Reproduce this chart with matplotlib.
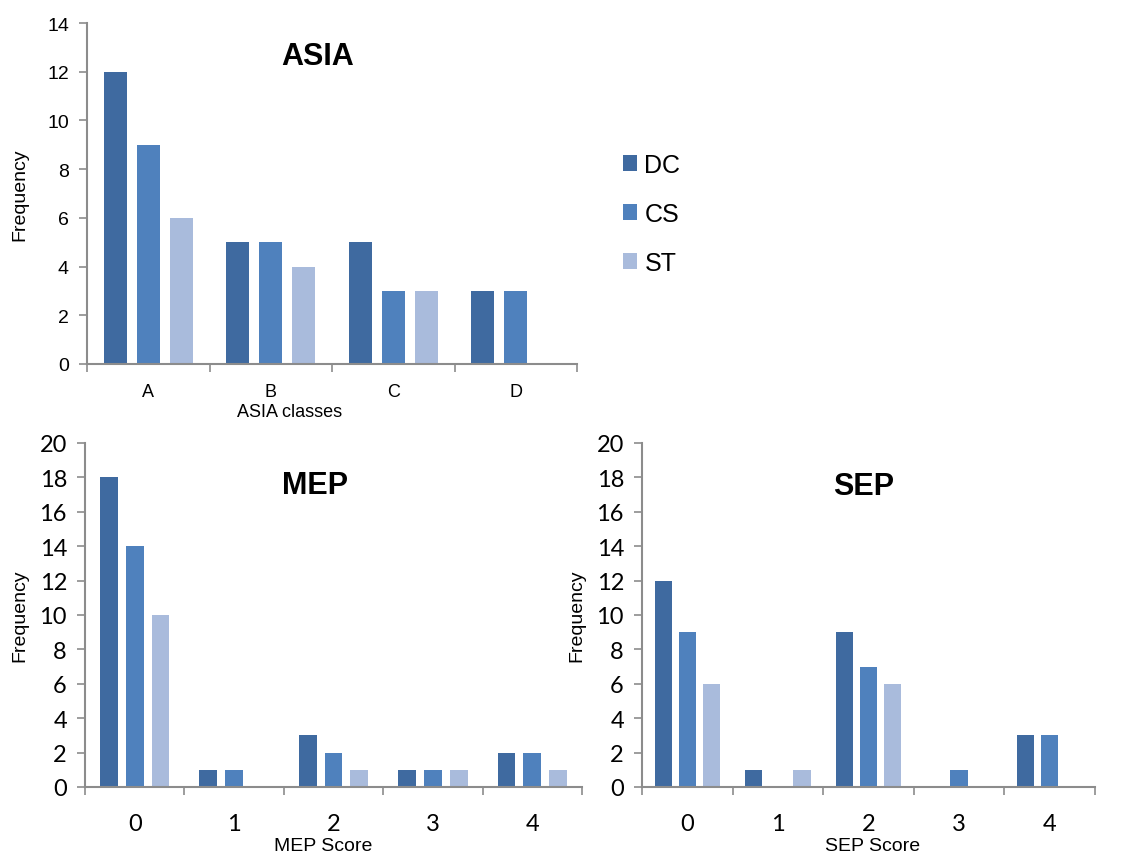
import numpy as np
import matplotlib
matplotlib.use("Agg")
import matplotlib.pyplot as plt
from matplotlib.patches import Patch

# data
series = ["DC", "CS", "ST"]
colors = ["#3F6AA0", "#4F81BD", "#A9BBDC"]

asia_classes = ["A", "B", "C", "D"]
asia_dc = [12, 5, 5, 3]
asia_cs = [9, 5, 3, 3]
asia_st = [6, 4, 3, 0]

mep_scores = ["0", "1", "2", "3", "4"]
mep_dc = [18, 1, 3, 1, 2]
mep_cs = [14, 1, 2, 1, 2]
mep_st = [10, 0, 1, 1, 1]

sep_scores = ["0", "1", "2", "3", "4"]
sep_dc = [12, 1, 9, 0, 3]
sep_cs = [9, 0, 7, 1, 3]
sep_st = [6, 1, 6, 0, 0]

W, H = 1137, 853
fig = plt.figure(figsize=(W / 100, H / 100), dpi=100)
fig.patch.set_facecolor("white")

text_font = "Liberation Sans"
gray = "#8C8C8C"


def make_axes(left, right, top, bottom):
    return fig.add_axes([left / W, (H - bottom) / H, (right - left) / W, (bottom - top) / H])


def draw_panel(ax, cats, vals, ymax, bar_w, step, tick_font, xt_size, yt_size, xpad, ypad):
    x = np.arange(len(cats))
    for k, (v, c) in enumerate(zip(vals, colors)):
        ax.bar(x + (k - 1) * step, v, width=bar_w, color=c, zorder=2)
    ax.set_xlim(-0.5, len(cats) - 0.5)
    ax.set_ylim(0, ymax)
    ax.set_yticks(np.arange(0, ymax + 1, 2))
    ax.set_xticks(x)
    ax.set_xticklabels(cats)
    ax.set_xticks(np.arange(-0.5, len(cats), 1), minor=True)
    ax.tick_params(axis="x", which="major", length=0, pad=xpad)
    ax.tick_params(axis="x", which="minor", length=6, color=gray, width=1.2, direction="out")
    ax.tick_params(axis="y", length=6, color=gray, width=1.2, direction="out", pad=ypad)
    for lab in ax.get_xticklabels():
        lab.set_fontfamily(tick_font)
        lab.set_fontsize(xt_size)
    for lab in ax.get_yticklabels():
        lab.set_fontfamily(tick_font)
        lab.set_fontsize(yt_size)
    for s in ["top", "right"]:
        ax.spines[s].set_visible(False)
    for s in ["left", "bottom"]:
        ax.spines[s].set_color(gray)
        ax.spines[s].set_linewidth(1.5)


def add_texts(ax, title, title_xy, xlabel, xlabel_xy, xlabel_size, ylabel_x):
    ax.text(title_xy[0], title_xy[1], title, transform=ax.transAxes, ha="center", va="center",
            family=text_font, fontweight="bold", fontsize=22)
    ax.text(xlabel_xy[0], xlabel_xy[1], xlabel, transform=ax.transAxes, ha="center", va="center",
            family=text_font, fontsize=xlabel_size)
    ax.text(ylabel_x, 0.5, "Frequency", transform=ax.transAxes, ha="center", va="center",
            rotation=90, family=text_font, fontsize=14)


ax1 = make_axes(87, 577, 24, 365)
draw_panel(ax1, asia_classes, [asia_dc, asia_cs, asia_st], 14, 0.19, 0.27,
           text_font, 13, 14, 14, 7)
add_texts(ax1, "ASIA", (0.471, 0.903), "ASIA classes", (0.414, -0.138), 13, -0.137)

ax2 = make_axes(85, 582, 444, 788)
draw_panel(ax2, mep_scores, [mep_dc, mep_cs, mep_st], 20, 0.18, 0.26,
           "Lato", 17, 17, 19, 7)
add_texts(ax2, "MEP", (0.463, 0.878), "MEP Score", (0.479, -0.169), 14, -0.131)

ax3 = make_axes(642, 1095, 444, 788)
draw_panel(ax3, sep_scores, [sep_dc, sep_cs, sep_st], 20, 0.19, 0.265,
           "Lato", 17, 17, 19, 7)
add_texts(ax3, "SEP", (0.49, 0.875), "SEP Score", (0.508, -0.169), 14, -0.143)

handles = [Patch(facecolor=c, label=s) for s, c in zip(series, colors)]
fig.legend(handles=handles, loc="center left", bbox_to_anchor=(600 / W, 1 - 215 / H),
           frameon=False, prop={"family": text_font, "size": 18},
           handlelength=0.58, handleheight=0.58, labelspacing=1.0, handletextpad=0.3)

fig.savefig("out.png", dpi=100)
